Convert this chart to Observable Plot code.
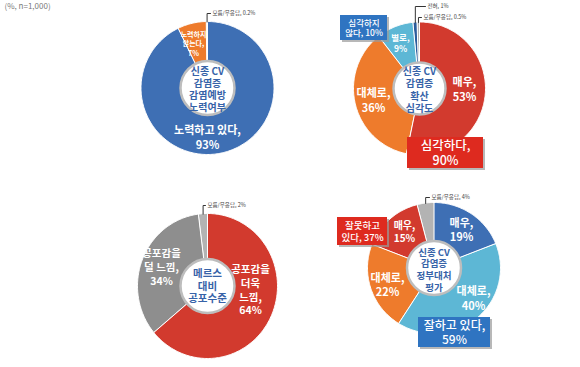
<!DOCTYPE html>
<html>
<head>
<meta charset="utf-8">
<script src="https://cdn.jsdelivr.net/npm/d3@7"></script>
<script src="https://cdn.jsdelivr.net/npm/@observablehq/plot@0.6"></script>
<style>
  html, body { margin: 0; padding: 0; background: #fff; }
  #chart { width: 580px; height: 367px; }
</style>
</head>
<body>
<div id="chart"></div>
<script>
// ---------- data ----------
const c1Categories = ["노력하고 있다", "노력하지 않는다", "모름/무응답"];
const c1Values = [93, 7, 0.2];

const c2Categories = ["매우", "대체로", "별로", "전혀", "모름/무응답"];
const c2Values = [53, 36, 9, 1, 0.5];

const c3Categories = ["공포감을 더욱 느낌", "공포감을 덜 느낌", "모름/무응답"];
const c3Values = [64, 34, 2];

const c4Categories = ["매우 잘함", "대체로 잘함", "대체로 잘못함", "매우 잘못함", "모름/무응답"];
const c4Values = [19, 40, 22, 15, 4];

const c1Title = "신종 CV\n감염증\n감염예방\n노력여부";
const c2Title = "신종 CV\n감염증\n확산\n심각도";
const c3Title = "메르스\n대비\n공포수준";
const c4Title = "신종 CV\n감염증\n정부대처\n평가";

// ---------- layout & style ----------
const BLUE = "#3e6fb4", ORANGE = "#ee7b2c", RED = "#d23a2e", LBLUE = "#5db7d5",
      DBLUE = "#2c5c9c", GREY = "#8e8e8e", LGREY = "#b3b3b3";
const BOXBLUE = "#2f74c1", BOXRED = "#de2a1f";
const FONT = "'Noto Sans CJK KR', 'Noto Sans', sans-serif";

const charts = [
  {cats: c1Categories, vals: c1Values, cx: 207, cy: 87.5, rx: 66.5, ry: 66.5, ri: 27,
   colors: [BLUE, ORANGE, LGREY], title: c1Title, titleY: 88.5, titleSize: 10,
   labels: [
     {i: 0, text: "노력하고 있다,\n93%", x: 207, y: 136, size: 11, lh: 1.35},
     {i: 1, text: "노력하지\n않는다,\n7%", x: 193, y: 43, size: 7, lh: 1.3}
   ],
   notes: [{i: 2, text: "모름/무응답, 0.2%", y: 13, x: 212}]},
  {cats: c2Categories, vals: c2Values, cx: 419, cy: 88, rx: 66, ry: 66.5, ri: 26,
   colors: [RED, ORANGE, LBLUE, DBLUE, LGREY], title: c2Title, titleY: 89, titleSize: 10,
   labels: [
     {i: 0, text: "매우,\n53%", x: 464, y: 88, size: 11, lh: 1.35},
     {i: 1, text: "대체로,\n36%", x: 373, y: 99, size: 11, lh: 1.35},
     {i: 2, text: "별로,\n9%", x: 400, y: 42, size: 8.5, lh: 1.3}
   ],
   notes: [
     {i: 3, text: "전혀, 1%", y: 6, x: 427},
     {i: 4, text: "모름/무응답, 0.5%", y: 17, x: 423}
   ]},
  {cats: c3Categories, vals: c3Values, cx: 207, cy: 285.5, rx: 70, ry: 72.5, ri: 27,
   colors: [RED, GREY, LGREY], title: c3Title, titleY: 285, titleSize: 10.5,
   labels: [
     {i: 0, text: "공포감을\n더욱\n느낌,\n64%", x: 250, y: 289, size: 10.5, lh: 1.3},
     {i: 1, text: "공포감을\n덜 느낌,\n34%", x: 161, y: 266, size: 10.5, lh: 1.3}
   ],
   notes: [{i: 2, text: "모름/무응답, 2%", y: 205, x: 207}]},
  {cats: c4Categories, vals: c4Values, cx: 433.5, cy: 267.5, rx: 66.5, ry: 65.5, ri: 27,
   colors: [BLUE, LBLUE, ORANGE, RED, LGREY], title: c4Title, titleY: 269, titleSize: 9.5,
   labels: [
     {i: 0, text: "매우,\n19%", x: 461, y: 229, size: 11, lh: 1.3},
     {i: 1, text: "대체로,\n40%", x: 473, y: 297, size: 11, lh: 1.35},
     {i: 2, text: "대체로,\n22%", x: 387, y: 284, size: 11, lh: 1.3},
     {i: 3, text: "매우,\n15%", x: 404, y: 231, size: 10, lh: 1.3}
   ],
   notes: [{i: 4, text: "모름/무응답, 4%", y: 197, x: 431}]}
];

const boxes = [
  {text: "심각하지\n않다, 10%", x1: 340, x2: 387, y1: 15, y2: 40, fill: BOXBLUE, size: 8.5},
  {text: "심각하다,\n90%", x1: 407, x2: 483, y1: 137, y2: 168, fill: BOXRED, size: 12.5},
  {text: "잘하고 있다,\n59%", x1: 418, x2: 490, y1: 317, y2: 347, fill: BOXBLUE, size: 12},
  {text: "잘못하고\n있다, 37%", x1: 337, x2: 387, y1: 217, y2: 245, fill: BOXRED, size: 9.5}
];

// ---------- build geometry from data ----------
const pts = [], centers = [], sliceLabels = [], noteTexts = [], leaders = [];
charts.forEach((c, ci) => {
  const arcs = d3.pie().sort(null)(c.vals);
  const P = (a, rx, ry) => [c.cx + rx * Math.sin(a), c.cy - ry * Math.cos(a)];
  arcs.forEach((a, k) => {
    const id = ci + "-" + k;
    const n = Math.max(2, Math.ceil((a.endAngle - a.startAngle) / 0.02));
    for (let j = 0; j <= n; j++) {
      const t = a.startAngle + (a.endAngle - a.startAngle) * j / n;
      const [x, y] = P(t, c.rx, c.ry);
      pts.push({id, x, y, fill: c.colors[k], cat: c.cats[k]});
    }
    for (let j = n; j >= 0; j--) {
      const t = a.startAngle + (a.endAngle - a.startAngle) * j / n;
      const [x, y] = P(t, c.ri * 0.6, c.ri * 0.6);
      pts.push({id, x, y, fill: c.colors[k], cat: c.cats[k]});
    }
  });
  centers.push({x: c.cx, y: c.titleY, cx: c.cx, cy: c.cy, r: c.ri, title: c.title, size: c.titleSize});
  c.labels.forEach(l => sliceLabels.push({...l, value: c.vals[l.i]}));
  c.notes.forEach(nt => {
    const a = arcs[nt.i];
    const mid = (a.startAngle + a.endAngle) / 2;
    const [x0, y0] = P(mid, c.rx, c.ry);
    const id = "L" + ci + "-" + nt.i;
    leaders.push({id, x: x0, y: y0 + 0.5});
    leaders.push({id, x: x0, y: nt.y});
    leaders.push({id, x: nt.x - 2, y: nt.y});
    noteTexts.push({...nt, value: c.vals[nt.i]});
  });
});

// group labels by line height so each Plot.text gets a constant lineHeight
const lhGroups = d3.groups(sliceLabels, d => d.lh);

const plot = Plot.plot({
  width: 580,
  height: 367,
  margin: 0,
  x: {domain: [0, 580], range: [0, 580], axis: null},
  y: {domain: [0, 367], range: [0, 367], axis: null},
  r: {type: "identity"},
  color: {type: "identity"},
  style: {fontFamily: FONT, background: "#fff"},
  marks: [
    Plot.text(["(%, n=1,000)"], {frameAnchor: "top-left", dx: 4, dy: 3, fontSize: 8, fill: "#7a7a7a", textAnchor: "start"}),
    Plot.line(pts, {x: "x", y: "y", z: "id", fill: "fill", stroke: "white", strokeWidth: 1, curve: "linear-closed"}),
    Plot.dot(centers, {x: "cx", y: "cy", r: "r", fill: "white", stroke: "#bdbdbd", strokeWidth: 2.5}),
    Plot.text(centers, {x: "x", y: "y", text: "title", fontSize: "size", lineHeight: 1.22, fill: "#3763a8", fontWeight: "bold"}),
    ...lhGroups.map(([lh, rows]) =>
      Plot.text(rows, {x: "x", y: "y", text: "text", fontSize: "size", lineHeight: lh, fill: "white", fontWeight: "bold"})),
    Plot.line(leaders, {x: "x", y: "y", z: "id", stroke: "#333", strokeWidth: 1}),
    Plot.text(noteTexts, {x: "x", y: "y", text: "text", fontSize: 5.5, fill: "#444", textAnchor: "start"}),
    Plot.rect(boxes, {x1: d => d.x1 + 2, x2: d => d.x2 + 2, y1: d => d.y1 + 2, y2: d => d.y2 + 2, fill: "#9a9a9a", fillOpacity: 0.7}),
    Plot.rect(boxes, {x1: "x1", x2: "x2", y1: "y1", y2: "y2", fill: "fill"}),
    Plot.text(boxes, {x: d => (d.x1 + d.x2) / 2, y: d => (d.y1 + d.y2) / 2, text: "text", fontSize: "size", lineHeight: 1.2, fill: "white", fontWeight: 500})
  ]
});
document.getElementById("chart").appendChild(plot);
</script>
</body>
</html>
